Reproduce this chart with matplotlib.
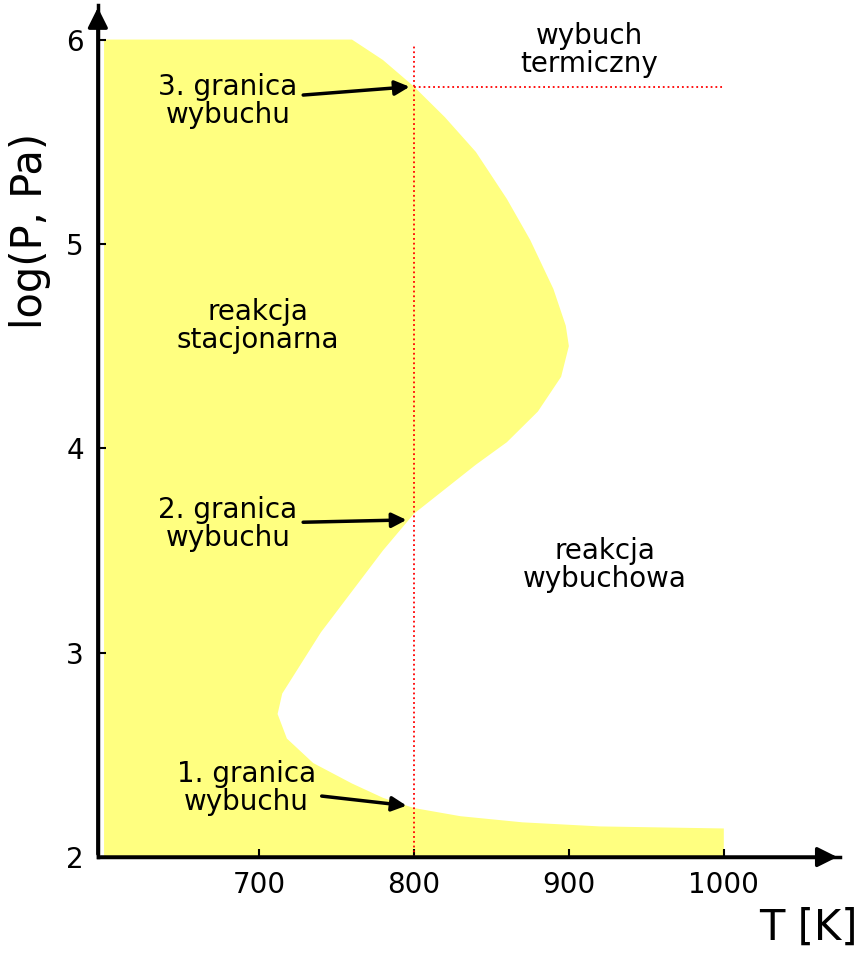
import numpy as np
import matplotlib.pyplot as plt

# boundary of the stationary-reaction region (T [K], log P)
region_T = [600, 760, 780, 800, 820, 840, 860, 875, 890, 898, 900, 895, 880, 860, 840,
            820, 800, 780, 760, 740, 725, 715, 712, 718, 735, 760, 780, 800, 830,
            870, 920, 1000, 1000, 600]
region_P = [6.0, 6.0, 5.9, 5.77, 5.62, 5.45, 5.22, 5.02, 4.78, 4.6, 4.5, 4.35, 4.18,
            4.03, 3.92, 3.8, 3.68, 3.5, 3.3, 3.1, 2.92, 2.8, 2.7, 2.58, 2.46, 2.36,
            2.29, 2.24, 2.2, 2.17, 2.15, 2.14, 2.0, 2.0]

x_ticks = [700, 800, 900, 1000]
y_ticks = [2, 3, 4, 5, 6]

T_limit = 800
P_thermal = 5.77

fig = plt.figure(figsize=(8.66, 9.63), dpi=100)
ax = fig.add_axes([0.113, 0.110, 0.857, 0.885])
ax.set_xlim(596, 1075)
ax.set_ylim(2, 6.17)

ax.fill(region_T, region_P, color='#ffff80', lw=0)

ax.plot([T_limit, T_limit], [2, 5.98], color='red', ls=':', lw=1.3)
ax.plot([T_limit, 1000], [P_thermal, P_thermal], color='red', ls=':', lw=1.3)

for s in ['top', 'right']:
    ax.spines[s].set_visible(False)
for s in ['left', 'bottom']:
    ax.spines[s].set_linewidth(2.5)
ax.annotate('', xy=(1.0, 0), xytext=(0, 0), xycoords='axes fraction',
            arrowprops=dict(arrowstyle='-|>', lw=2.5, color='black', mutation_scale=30))
ax.annotate('', xy=(0, 1.0), xytext=(0, 0), xycoords='axes fraction',
            arrowprops=dict(arrowstyle='-|>', lw=2.5, color='black', mutation_scale=30))

ax.set_xticks(x_ticks)
ax.set_yticks(y_ticks)
ax.tick_params(labelsize=20, direction='in', length=6, width=1.5, pad=10)

fig.text(0.99, 0.015, 'T [K]', fontsize=30, ha='right', va='bottom')
fig.text(0.01, 0.76, 'log(P, Pa)', fontsize=30, rotation=90, ha='left', va='center')

kw = dict(fontsize=20, ha='center', va='center', linespacing=1.0)
ax.text(699, 4.6, 'reakcja\nstacjonarna', **kw)
ax.text(923, 3.43, 'reakcja\nwybuchowa', **kw)
ax.text(913, 5.95, 'wybuch\ntermiczny', **kw)

arrow = dict(arrowstyle='-|>', lw=2.5, color='black', mutation_scale=22)
ax.annotate('3. granica\nwybuchu', xy=(799, 5.77), xytext=(680, 5.7),
            arrowprops=arrow, **kw)
ax.annotate('2. granica\nwybuchu', xy=(797, 3.65), xytext=(680, 3.63),
            arrowprops=arrow, **kw)
ax.annotate('1. granica\nwybuchu', xy=(797, 2.25), xytext=(692, 2.34),
            arrowprops=arrow, **kw)

fig.savefig('out.png', dpi=100)
